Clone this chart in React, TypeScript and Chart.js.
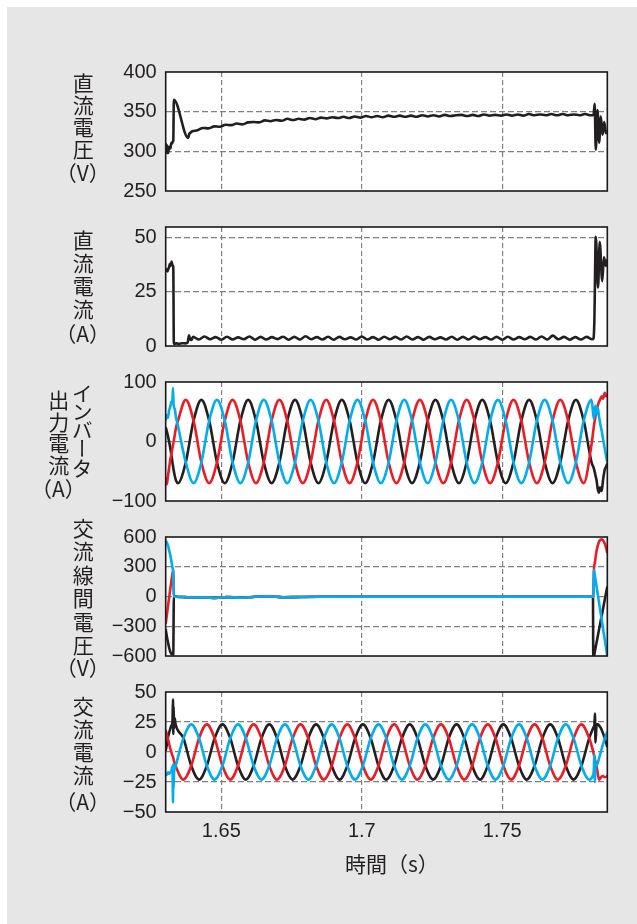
import React, { useEffect, useRef } from 'react';
import { Chart, registerables } from 'chart.js';

Chart.register(...registerables);

// ---------------- data ----------------
const X_MIN = 1.6302;
const X_MAX = 1.7874;
const X_TICKS = [1.65, 1.7, 1.75];

// Panel 1: DC voltage (V)
const DCV_TICKS = [250, 300, 350, 400];
const DCV_T = [
  1.6302, 1.6303, 1.6304, 1.6305, 1.6306, 1.6307, 1.6308, 1.6309, 1.631, 1.6311, 1.6313, 1.6315, 1.6317, 1.6319,
  1.6321, 1.6323, 1.6325, 1.6327, 1.6329, 1.6331, 1.6382, 1.6386, 1.639,
  1.6395, 1.6415, 1.6435, 1.6455, 1.6475, 1.6495, 1.6515, 1.6535, 1.6555, 1.6575,
  1.6595, 1.6615, 1.6635, 1.6655, 1.6675, 1.6695, 1.6715, 1.6735, 1.6755, 1.6775,
  1.6795, 1.6815, 1.6835, 1.6855, 1.6875, 1.6895, 1.6915, 1.6935, 1.6955, 1.6975,
  1.6995, 1.7015, 1.7035, 1.7055, 1.7075, 1.7095, 1.7115, 1.7135, 1.7155, 1.7175,
  1.7195, 1.7215, 1.7235, 1.7255, 1.7275, 1.7295, 1.7315, 1.7335, 1.7355, 1.7375,
  1.7395, 1.7415, 1.7435, 1.7455, 1.7475, 1.7495, 1.7515, 1.7535, 1.7555, 1.7575,
  1.7595, 1.7615, 1.7635, 1.7655, 1.7675, 1.7695, 1.7715, 1.7735, 1.7755, 1.7775,
  1.7795, 1.7815,
  1.7825, 1.7829, 1.7833, 1.7839, 1.7845, 1.7851, 1.7857, 1.7863, 1.7869, 1.7874,
];
const DCV = [
  306, 299, 309, 300, 308, 298, 307, 300, 306, 298, 305, 302, 306, 304,
  309, 311, 310, 312, 313, 365, 317, 322, 323.5,
  325, 326.5, 329.5, 329, 331.5, 331, 333.5, 333, 335, 334,
  336.5, 337, 336.5, 339, 338, 339.5, 338.5, 341, 339.5, 341,
  340, 342, 340.5, 342.5, 341.5, 343, 342, 343.5, 342, 344,
  342.5, 344.5, 343, 344.5, 343, 345, 343.5, 345, 343.5, 345,
  343.5, 345.5, 344, 345.5, 344, 346, 344.5, 345.5, 346, 344.5,
  346, 344.5, 346.5, 345, 346, 345, 346.5, 345, 346.5, 345,
  347, 345.5, 346.5, 345.5, 347, 345.5, 347, 345.5, 346.5, 345.5,
  347, 345.5,
  346, 360, 302, 352, 311, 344, 321, 337, 323, 327,
];

// Panel 2: DC current (A)
const DCI_TICKS = [0, 25, 50];
const DCI_T = [
  1.6302, 1.6305, 1.6308, 1.6311, 1.6314, 1.6317, 1.632, 1.6323, 1.6326, 1.6329,
  1.6331, 1.634, 1.635, 1.636, 1.637, 1.638, 1.6385, 1.6389, 1.6394, 1.6397,
  1.64, 1.642, 1.644, 1.646, 1.648, 1.65, 1.652, 1.654, 1.656, 1.658,
  1.66, 1.662, 1.664, 1.666, 1.668, 1.67, 1.672, 1.674, 1.676, 1.678,
  1.68, 1.682, 1.684, 1.686, 1.688, 1.69, 1.692, 1.694, 1.696, 1.698,
  1.7, 1.702, 1.704, 1.706, 1.708, 1.71, 1.712, 1.714, 1.716, 1.718,
  1.72, 1.722, 1.724, 1.726, 1.728, 1.73, 1.732, 1.734, 1.736, 1.738,
  1.74, 1.742, 1.744, 1.746, 1.748, 1.75, 1.752, 1.754, 1.756, 1.758,
  1.76, 1.762, 1.764, 1.766, 1.768, 1.77, 1.772, 1.774, 1.776, 1.778,
  1.78, 1.782,
  1.7825, 1.7828, 1.7833, 1.7841, 1.7847, 1.7856, 1.7862, 1.7869, 1.7874,
];
const DCI = [
  35, 35.5, 34.5, 35.5, 36.5, 38, 37, 39, 37.5, 36.5,
  1, 1.2, 1, 1.3, 1.2, 1.6, 5, 3, 2.8, 3.8,
  4.2, 3.0, 4.4, 3.1, 4.1, 2.9, 4.3, 3.0, 4.0, 3.1,
  4.4, 2.9, 4.2, 3.0, 4.1, 3.2, 4.3, 2.9, 4.2, 3.0,
  4.5, 3.1, 4.1, 3.0, 4.3, 2.9, 4.2, 3.1, 4.0, 3.0,
  4.4, 3.0, 4.1, 2.9, 4.3, 3.1, 4.2, 3.0, 4.4, 3.0,
  4.1, 2.9, 4.2, 3.1, 4.0, 3.0, 4.3, 2.9, 4.2, 3.0,
  4.4, 3.1, 4.1, 3.0, 4.2, 2.9, 4.3, 3.0, 4.1, 3.1,
  4.2, 3.0, 4.4, 3.0, 4.8, 3.1, 4.2, 2.9, 4.1, 3.0,
  4.2, 3.1,
  3.6, 12, 50.5, 27, 48, 30, 41, 37, 40,
];

// Panel 3: inverter output current (A)
const INV_TICKS = [-100, 0, 100];
const INV_T = [
  1.6302, 1.6306, 1.631, 1.6314, 1.6318, 1.6322, 1.6326, 1.6328, 1.633, 1.6334, 1.6339,
  1.63457, 1.63734, 1.64012, 1.6429, 1.64568, 1.64846,
  1.65123, 1.65401, 1.65679, 1.65957, 1.66234, 1.66512,
  1.6679, 1.67068, 1.67346, 1.67623, 1.67901, 1.68179,
  1.68457, 1.68734, 1.69012, 1.6929, 1.69568, 1.69846,
  1.70123, 1.70401, 1.70679, 1.70957, 1.71234, 1.71512,
  1.7179, 1.72068, 1.72346, 1.72623, 1.72901, 1.73179,
  1.73457, 1.73734, 1.74012, 1.7429, 1.74568, 1.74846,
  1.75123, 1.75401, 1.75679, 1.75957, 1.76234, 1.76512,
  1.7679, 1.77068, 1.77346, 1.77623, 1.77901, 1.78179,
  1.7826, 1.7831, 1.7836, 1.784, 1.7844, 1.7848, 1.7854, 1.7859, 1.7865, 1.787, 1.7874,
];
const INV_BLACK = [
  24, 17, 9, 0, -10, -22, -35, -41, -47, -57, -66,
  -70, -35, 35, 70, 35, -35,
  -70, -35, 35, 70, 35, -35,
  -70, -35, 35, 70, 35, -35,
  -70, -35, 35, 70, 35, -35,
  -70, -35, 35, 70, 35, -35,
  -70, -35, 35, 70, 35, -35,
  -70, -35, 35, 70, 35, -35,
  -70, -35, 35, 70, 35, -35,
  -70, -35, 35, 70, 35, -35,
  -45, -55, -66, -80, -86, -77, -83, -64, -47, -42, -37,
];
const INV_RED = [
  -60, -72, -58, -45, -32, -21, -11, -6, -1, 10, 24,
  35, 70, 35, -35, -70, -35,
  35, 70, 35, -35, -70, -35,
  35, 70, 35, -35, -70, -35,
  35, 70, 35, -35, -70, -35,
  35, 70, 35, -35, -70, -35,
  35, 70, 35, -35, -70, -35,
  35, 70, 35, -35, -70, -35,
  35, 70, 35, -35, -70, -35,
  35, 70, 35, -35, -70, -5,
  25, 40, 52, 60, 66, 70, 76, 72, 82, 76, 80,
];
const INV_BLUE = [
  36, 44, 40, 52, 58, 66, 70, 90, 62, 55, 40,
  26, -35, -70, -35, 35, 70,
  35, -35, -70, -35, 35, 70,
  35, -35, -70, -35, 35, 70,
  35, -35, -70, -35, 35, 70,
  35, -35, -70, -35, 35, 70,
  35, -35, -70, -35, 35, 70,
  35, -35, -70, -35, 35, 70,
  35, -35, -70, -35, 35, 70,
  35, -35, -70, -35, 35, 70,
  38, 60, 46, 57, 44, 32, 18, 4, -12, -25, -35,
];

// Panel 4: AC line-to-line voltage (V)
const VLL_TICKS = [-600, -300, 0, 300, 600];
const VLL_T = [
  1.6302, 1.6306, 1.631, 1.6314, 1.6318, 1.6322, 1.6326, 1.6328, 1.6329, 1.6331,
  1.634, 1.637, 1.64, 1.644, 1.648, 1.652, 1.657, 1.662, 1.667, 1.672, 1.678, 1.685, 1.695, 1.71, 1.73, 1.75, 1.77, 1.7823,
  1.7824, 1.78265, 1.783, 1.7834, 1.7838, 1.7842, 1.7846, 1.785, 1.7854, 1.7858, 1.7862, 1.7866, 1.787, 1.7874,
];
const VLL_BLACK = [
  -330, -400, -460, -515, -555, -578, -583, -583, -580, 0,
  -2, -6, -10, -8, -14, -6, -12, -3, 2, -8, -5, -3, -2, -2, -2, -2, -2, -2,
  -600, -600, -548, -489, -430, -371, -312, -253, -194, -135, -76, -17, 42, 100,
];
const VLL_RED = [
  -275, -190, -100, -15, 70, 150, 225, 255, 262, 0,
  -2, -6, -10, -8, -14, -6, -12, -3, 2, -8, -5, -3, -2, -2, -2, -2, -2, -2,
  -2, 270, 345, 430, 490, 530, 560, 573, 577, 568, 554, 525, 488, 438,
];
const VLL_BLUE = [
  565, 545, 515, 470, 420, 360, 295, 262, 200, 0,
  -2, -6, -10, -8, -14, -6, -12, -3, 2, -8, -5, -3, -2, -2, -2, -2, -2, -2,
  -2, 270, 206, 133, 59, -14, -87, -160, -234, -307, -380, -453, -527, -600,
];

// Panel 5: AC current (A)
const AC_TICKS = [-50, -25, 0, 25, 50];
const AC_T = [
  1.6302, 1.6306, 1.631, 1.6314, 1.6318, 1.6322, 1.6326, 1.6328, 1.6329, 1.633, 1.6332, 1.6334,
  1.63373, 1.63651, 1.63929, 1.64207, 1.64484, 1.64762,
  1.6504, 1.65318, 1.65596, 1.65873, 1.66151, 1.66429,
  1.66707, 1.66984, 1.67262, 1.6754, 1.67818, 1.68096,
  1.68373, 1.68651, 1.68929, 1.69207, 1.69484, 1.69762,
  1.7004, 1.70318, 1.70596, 1.70873, 1.71151, 1.71429,
  1.71707, 1.71984, 1.72262, 1.7254, 1.72818, 1.73096,
  1.73373, 1.73651, 1.73929, 1.74207, 1.74484, 1.74762,
  1.7504, 1.75318, 1.75596, 1.75873, 1.76151, 1.76429,
  1.76707, 1.76984, 1.77262, 1.7754, 1.77818, 1.78096,
  1.7822, 1.7826, 1.7828, 1.783, 1.7832, 1.7836, 1.784, 1.7845, 1.7852, 1.7858, 1.7865, 1.7874,
];
const AC_BLACK = [
  1, 6, 12, 16, 19, 22, 25, 44, 15, 38, 20, 28,
  23, 11.5, -11.5, -23, -11.5, 11.5,
  23, 11.5, -11.5, -23, -11.5, 11.5,
  23, 11.5, -11.5, -23, -11.5, 11.5,
  23, 11.5, -11.5, -23, -11.5, 11.5,
  23, 11.5, -11.5, -23, -11.5, 11.5,
  23, 11.5, -11.5, -23, -11.5, 11.5,
  23, 11.5, -11.5, -23, -11.5, 11.5,
  23, 11.5, -11.5, -23, -11.5, 11.5,
  23, 11.5, -11.5, -23, -11.5, 11.5,
  19, 21, 22, 32, 8, 23, 23, 22, 19.5, 16, 11.5, 4,
];
const AC_RED = [
  18, 15, 11, 7, 3, 0, -3, -4, -5, -6, -8, -9,
  -11.5, -23, -11.5, 11.5, 23, 11.5,
  -11.5, -23, -11.5, 11.5, 23, 11.5,
  -11.5, -23, -11.5, 11.5, 23, 11.5,
  -11.5, -23, -11.5, 11.5, 23, 11.5,
  -11.5, -23, -11.5, 11.5, 23, 11.5,
  -11.5, -23, -11.5, 11.5, 23, 11.5,
  -11.5, -23, -11.5, 11.5, 23, 11.5,
  -11.5, -23, -11.5, 11.5, 23, 11.5,
  -11.5, -23, -11.5, 11.5, 23, 11.5,
  2, -2, -4, -6, -8, -12, -18, -23, -21, -20, -21, -20,
];
const AC_BLUE = [
  -18, -19, -17, -18, -17, -16, -12, -42, -10, -30, -16, -14,
  -11.5, 11.5, 23, 11.5, -11.5, -23,
  -11.5, 11.5, 23, 11.5, -11.5, -23,
  -11.5, 11.5, 23, 11.5, -11.5, -23,
  -11.5, 11.5, 23, 11.5, -11.5, -23,
  -11.5, 11.5, 23, 11.5, -11.5, -23,
  -11.5, 11.5, 23, 11.5, -11.5, -23,
  -11.5, 11.5, 23, 11.5, -11.5, -23,
  -11.5, 11.5, 23, 11.5, -11.5, -23,
  -11.5, 11.5, 23, 11.5, -11.5, -23,
  -20, -15, -2, -25, -12, -11, -9, -5, 1, 6, 11, 17,
];

// Texts
const X_TITLE = '時間（s）';
const Y_TITLES = [
  { x: 82.7, items: ['直', '流', '電', '圧', '（V）'], ys: [83, 105.2, 127.4, 149.6, 172] },
  { x: 82.7, items: ['直', '流', '電', '流', '（A）'], ys: [240.7, 263.5, 286.5, 309, 333] },
  { x: 81.7, items: ['イ', 'ン', 'バ', 'ー', 'タ'], ys: [393, 411, 430, 448.5, 468] },
  { x: 58.3, items: ['出', '力', '電', '流', '（A）'], ys: [400, 422, 443.5, 465, 488.3] },
  { x: 82.7, items: ['交', '流', '線', '間', '電', '圧', '（V）'], ys: [528.3, 551.5, 575, 598.5, 622, 645, 667.5] },
  { x: 82.7, items: ['交', '流', '電', '流', '（A）'], ys: [706.7, 729, 752, 775, 801.7] },
];

// ---------------- styles ----------------
const C_BLACK = '#231f20';
const C_RED = '#ed1c24';
const C_BLUE = '#00aeef';
const GRID = '#808080';
const TXT = '#231f20';
const BG = '#e6e6e6';
const TICK_FONT = { family: '"Liberation Sans", Arial, sans-serif', size: 20 };
const CJK = '"Noto Sans CJK JP", "Noto Sans CJK SC", sans-serif';

const PLOT_L = 165.7;
const PLOT_R = 607.3;
const PLOT_H = 121;
const PANEL_TOPS = [71, 226, 381, 536, 691];
const PAD = 20;
const X_AXIS_H = 40;

const fmt = (v: number) => String(v).replace('-', '\u2212');

const framePlugin = {
  id: 'frame',
  beforeDraw(chart: any) {
    const { ctx, chartArea: a } = chart;
    ctx.save();
    ctx.fillStyle = '#ffffff';
    ctx.fillRect(a.left, a.top, a.right - a.left, a.bottom - a.top);
    ctx.restore();
  },
  afterDatasetsDraw(chart: any) {
    const { ctx, chartArea: a } = chart;
    ctx.save();
    ctx.strokeStyle = '#1a1a1a';
    ctx.lineWidth = 1.6;
    ctx.strokeRect(a.left, a.top, a.right - a.left, a.bottom - a.top);
    ctx.restore();
  },
};

type Series = { values: number[]; color: string };
type PanelProps = {
  idx: number;
  t: number[];
  series: Series[]; // first entry is drawn on top
  yMin: number;
  yMax: number;
  yTicks: number[];
  showX: boolean;
};

function Panel({ idx, t, series, yMin, yMax, yTicks, showX }: PanelProps) {
  const ref = useRef<HTMLCanvasElement>(null);
  const h = PAD + PLOT_H + (showX ? X_AXIS_H : PAD);
  useEffect(() => {
    if (!ref.current) return;
    const chart = new Chart(ref.current, {
      type: 'line',
      data: {
        datasets: series.map((s, si) => ({
          data: t.map((x, i) => ({ x, y: s.values[i] })).filter((p) => p.y !== undefined),
          borderColor: s.color,
          borderWidth: 2.6,
          pointRadius: 0,
          cubicInterpolationMode: 'monotone',
          fill: false,
          order: si,
        })),
      },
      options: {
        animation: false,
        responsive: false,
        devicePixelRatio: 1,
        events: [],
        layout: { padding: { left: 0, right: 637 - PLOT_R, top: PAD, bottom: showX ? 0 : PAD } },
        plugins: { legend: { display: false }, tooltip: { enabled: false } },
        scales: {
          x: {
            type: 'linear',
            min: X_MIN,
            max: X_MAX,
            afterBuildTicks: (s: any) => {
              s.ticks = X_TICKS.map((v) => ({ value: v }));
            },
            afterFit: (s: any) => {
              s.height = showX ? X_AXIS_H : 0;
            },
            grid: { color: GRID, lineWidth: 1.2, drawTicks: false },
            border: { display: false, dash: [5, 3] },
            ticks: {
              display: showX,
              padding: 7,
              color: TXT,
              font: TICK_FONT,
              maxRotation: 0,
              autoSkip: false,
              callback: (v: any) => fmt(v),
            },
          },
          y: {
            type: 'linear',
            min: yMin,
            max: yMax,
            afterBuildTicks: (s: any) => {
              s.ticks = yTicks.map((v) => ({ value: v }));
            },
            afterFit: (s: any) => {
              s.width = PLOT_L;
            },
            grid: {
              color: (c: any) =>
                c.tick && (c.tick.value === yMin || c.tick.value === yMax) ? 'rgba(0,0,0,0)' : GRID,
              lineWidth: 1.2,
              drawTicks: false,
            },
            border: { display: false, dash: [6, 3] },
            ticks: {
              padding: 9,
              color: TXT,
              font: TICK_FONT,
              autoSkip: false,
              callback: (v: any) => fmt(v),
            },
          },
        },
      } as any,
      plugins: [framePlugin],
    });
    return () => chart.destroy();
  }, []);
  return (
    <canvas
      ref={ref}
      width={637}
      height={h}
      style={{ position: 'absolute', left: 0, top: PANEL_TOPS[idx] - PAD, width: 637, height: h }}
    />
  );
}

function Glyph({ x, y, text }: { x: number; y: number; text: string }) {
  const vertical = text.length === 1;
  return (
    <div
      style={{
        position: 'absolute',
        left: x - 30,
        top: y - 15,
        width: 60,
        height: 30,
        display: 'flex',
        alignItems: 'center',
        justifyContent: 'center',
        fontFamily: CJK,
        fontSize: 21,
        lineHeight: '30px',
        color: TXT,
        whiteSpace: 'nowrap',
      }}
    >
      <span style={{ writingMode: vertical ? 'vertical-rl' : 'horizontal-tb', lineHeight: 1 }}>{text}</span>
    </div>
  );
}

export default function App() {
  const panels: PanelProps[] = [
    { idx: 0, t: DCV_T, series: [{ values: DCV, color: C_BLACK }], yMin: 250, yMax: 400, yTicks: DCV_TICKS, showX: false },
    { idx: 1, t: DCI_T, series: [{ values: DCI, color: C_BLACK }], yMin: 0, yMax: 55, yTicks: DCI_TICKS, showX: false },
    {
      idx: 2,
      t: INV_T,
      series: [
        { values: INV_BLUE, color: C_BLUE },
        { values: INV_RED, color: C_RED },
        { values: INV_BLACK, color: C_BLACK },
      ],
      yMin: -100,
      yMax: 100,
      yTicks: INV_TICKS,
      showX: false,
    },
    {
      idx: 3,
      t: VLL_T,
      series: [
        { values: VLL_BLUE, color: C_BLUE },
        { values: VLL_RED, color: C_RED },
        { values: VLL_BLACK, color: C_BLACK },
      ],
      yMin: -600,
      yMax: 600,
      yTicks: VLL_TICKS,
      showX: false,
    },
    {
      idx: 4,
      t: AC_T,
      series: [
        { values: AC_BLUE, color: C_BLUE },
        { values: AC_RED, color: C_RED },
        { values: AC_BLACK, color: C_BLACK },
      ],
      yMin: -50,
      yMax: 50,
      yTicks: AC_TICKS,
      showX: true,
    },
  ];
  return (
    <div style={{ position: 'absolute', left: 0, top: 0, width: 637, height: 924, background: '#ffffff', overflow: 'hidden' }}>
      <div style={{ position: 'absolute', left: 7, top: 7, width: 630, height: 917, background: BG }} />
      {panels.map((p) => (
        <Panel key={p.idx} {...p} />
      ))}
      {Y_TITLES.map((col, ci) =>
        col.items.map((txt, i) => <Glyph key={ci + '-' + i} x={col.x} y={col.ys[i]} text={txt} />)
      )}
      <div
        style={{
          position: 'absolute',
          left: 345,
          top: 851,
          fontFamily: CJK,
          fontSize: 21,
          lineHeight: '24px',
          color: TXT,
          whiteSpace: 'nowrap',
        }}
      >
        {X_TITLE}
      </div>
    </div>
  );
}
